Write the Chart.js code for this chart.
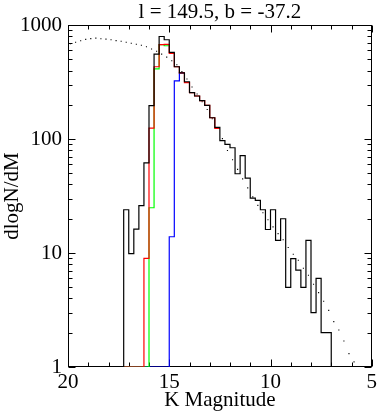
<!DOCTYPE html>
<html>
<head>
<meta charset="utf-8">
<script src="https://cdn.jsdelivr.net/npm/chart.js@4.4.1/dist/chart.umd.min.js"></script>
<style>
  html, body { margin: 0; padding: 0; background: #fff; }
  #wrap { width: 380px; height: 414px; }
</style>
</head>
<body>
<div id="wrap"><canvas id="myChart" width="380" height="414"></canvas></div>
<script>
// 0.25 mag bins: each value holds from its magnitude down to the next one
const blackMag = [17.5, 17.25, 17.0, 16.75, 16.5, 16.25, 16.0, 15.75, 15.5, 15.25, 15.0, 14.75, 14.5, 14.25,
  14.0, 13.75, 13.5, 13.25, 13.0, 12.75, 12.5, 12.25, 12.0, 11.75, 11.5, 11.25, 11.0, 10.75, 10.5, 10.25,
  10.0, 9.75, 9.5, 9.25, 9.0, 8.75, 8.5, 8.25, 8.0, 7.75, 7.5, 7.25, 7.0];
const blackN = [0, 24.0, 9.9, 16.2, 26.1, 62, 197, 558, 796, 745, 577, 432, 381, 319,
  256, 239, 218, 198, 154, 127, 97, 90, 84, 49.7, 71.8, 45.5, 30.4, 29, 24.0, 16.1,
  24.0, 12.9, 20.0, 5.0, 8.95, 7.07, 5.0, 12.9, 3.0, 6.0, 2.0, 2.0, 0];

const redMag = [17.25, 17.0, 16.75, 16.5, 16.25, 16.0, 15.75, 15.5, 15.25, 15.0, 14.75, 14.5, 14.25,
  14.0, 13.75, 13.5, 13.25, 13.0, 12.75, 12.5];
const redN = [0, 0, 0, 0, 9.0, 125, 432, 674, 680, 565, 432, 381, 313,
  256, 239, 218, 198, 154, 124.5, 124.5];

const greenMag = [17.25, 17.0, 16.75, 16.5, 16.25, 16.0, 15.75, 15.5, 15.25, 15.0];
const greenN = [0, 0, 0, 0, 0, 25, 413, 674, 660, 660];

const blueMag = [17.25, 17.0, 16.75, 16.5, 16.25, 16.0, 15.75, 15.5, 15.25, 15.0, 14.75, 14.5, 14.25];
const blueN = [0, 0, 0, 0, 0, 0, 0, 0, 0, 13.9, 324, 381, 381];

// model counts at bin centres (dotted)
const modelMag = [19.875, 19.625, 19.375, 19.125, 18.875, 18.625, 18.375, 18.125, 17.875, 17.625,
  17.375, 17.125, 16.875, 16.625, 16.375, 16.125, 15.875, 15.625, 15.375, 15.125,
  14.875, 14.625, 14.375, 14.125, 13.875, 13.625, 13.375, 13.125, 12.875, 12.625,
  12.375, 12.125, 11.875, 11.625, 11.375, 11.125, 10.875, 10.625, 10.375, 10.125,
  9.875, 9.625, 9.375, 9.125, 8.875, 8.625, 8.375, 8.125, 7.875, 7.625,
  7.375, 7.125, 6.875, 6.625, 6.375, 6.125, 5.875, 5.625];
const modelN = [687, 708, 730, 750, 763, 771, 760, 755, 745, 733,
  723, 708, 694, 680, 667, 647, 618, 591, 558, 524,
  488, 450, 391, 337, 287, 249, 213, 182, 151, 124,
  101, 79.5, 65.9, 54.2, 44.8, 37.3, 31.1, 26.2, 22.6, 19.6,
  17.0, 14.8, 13.1, 11.2, 9.76, 8.65, 7.36, 6.39, 5.33, 4.49,
  3.78, 3.14, 2.50, 2.11, 1.69, 1.31, 1.11, 0.90];

const xMajor = [20, 15, 10, 5];
const xMinor = [19, 18, 17, 16, 14, 13, 12, 11, 9, 8, 7, 6];
const yMajor = [1, 10, 100, 1000];
const yMinor = [2, 3, 4, 5, 6, 7, 8, 9, 20, 30, 40, 50, 60, 70, 80, 90, 200, 300, 400, 500, 600, 700, 800, 900];

const titleText = 'l = 149.5, b = -37.2';

// empty bins sit on the bottom of the log axis, as in the original plot
const toXY = (mags, vals) => mags.map((m, i) => ({x: m, y: vals[i] > 0 ? vals[i] : yMajor[0]}));

Chart.defaults.font.family = '"Liberation Serif", "DejaVu Serif", serif';
Chart.defaults.color = '#000';

// IDL-style box with inward ticks on all four sides
const boxTicks = {
  id: 'box_ticks',
  beforeDatasetsDraw(chart) {
    const {ctx, chartArea: a, scales: {x, y}} = chart;
    const L = Math.round(a.left) + 0.5, R = Math.round(a.right) - 0.5;
    const T = Math.round(a.top) + 0.5, B = Math.round(a.bottom) - 0.5;
    ctx.save();
    ctx.strokeStyle = '#000';
    ctx.lineWidth = 1;
    ctx.strokeRect(L, T, R - L, B - T);
    ctx.beginPath();
    const xt = (v, len) => {
      const px = Math.round(x.getPixelForValue(v)) + 0.5;
      ctx.moveTo(px, B); ctx.lineTo(px, B - len);
      ctx.moveTo(px, T); ctx.lineTo(px, T + len);
    };
    const yt = (v, len) => {
      const py = Math.round(y.getPixelForValue(v)) + 0.5;
      ctx.moveTo(L, py); ctx.lineTo(L + len, py);
      ctx.moveTo(R, py); ctx.lineTo(R - len, py);
    };
    xMajor.forEach(v => xt(v, 7));
    xMinor.forEach(v => xt(v, 4));
    yMajor.forEach(v => yt(v, 7));
    yMinor.forEach(v => yt(v, 4));
    ctx.stroke();
    ctx.restore();
  }
};

const hist = (mags, vals, color) => ({
  data: toXY(mags, vals),
  borderColor: color,
  borderWidth: 1.2,
  stepped: true,
  pointRadius: 0,
  fill: false,
});

new Chart(document.getElementById('myChart'), {
  type: 'line',
  data: {
    datasets: [
      hist(blackMag, blackN, '#000000'),
      hist(redMag, redN, '#ff0000'),
      hist(greenMag, greenN, '#00ff00'),
      hist(blueMag, blueN, '#0000ff'),
      {
        data: toXY(modelMag, modelN),
        showLine: false,
        pointStyle: 'rect',
        pointRadius: 0.8,
        pointBackgroundColor: '#000',
        pointBorderWidth: 0,
      },
    ],
  },
  options: {
    responsive: false,
    animation: false,
    events: [],
    layout: {padding: {right: 5}},
    plugins: {
      legend: {display: false},
      tooltip: {enabled: false},
      title: {
        display: true,
        text: titleText,
        fullSize: false,
        color: '#000',
        font: {size: 21, weight: 'normal', lineHeight: 1.2},
        padding: {top: 0, bottom: 0},
      },
    },
    scales: {
      x: {
        type: 'linear',
        reverse: true,
        min: 5,
        max: 20,
        afterBuildTicks: (s) => { s.ticks = xMajor.map(v => ({value: v})); },
        afterFit: (s) => { s.height = 47; },
        grid: {display: false, drawTicks: false},
        border: {display: false},
        ticks: {color: '#000', font: {size: 21}, padding: 3, maxRotation: 0, autoSkip: false,
          callback: (v) => String(v)},
        title: {display: true, text: 'K Magnitude', color: '#000', font: {size: 21},
          padding: {top: 0, bottom: 1}},
      },
      y: {
        type: 'logarithmic',
        min: 1,
        max: 1000,
        afterBuildTicks: (s) => { s.ticks = yMajor.map(v => ({value: v})); },
        afterFit: (s) => { s.width = 68; },
        grid: {display: false, drawTicks: false},
        border: {display: false},
        ticks: {color: '#000', font: {size: 21}, padding: 6, autoSkip: false,
          callback: (v) => String(v)},
        title: {display: true, text: 'dlogN/dM', color: '#000', font: {size: 21},
          padding: {top: 0, bottom: 0}},
      },
    },
  },
  plugins: [boxTicks],
});
</script>
</body>
</html>
